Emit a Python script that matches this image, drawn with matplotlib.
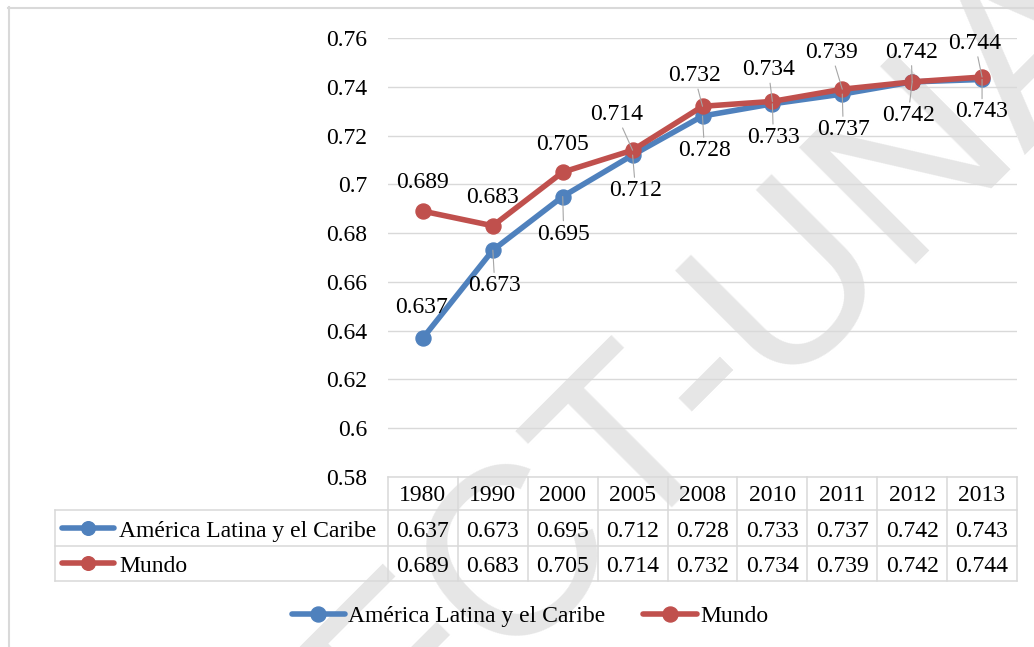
import matplotlib.pyplot as plt
from matplotlib.lines import Line2D
from matplotlib.ticker import MultipleLocator, FuncFormatter

years = ['1980', '1990', '2000', '2005', '2008', '2010', '2011', '2012', '2013']
latam = [0.637, 0.673, 0.695, 0.712, 0.728, 0.733, 0.737, 0.742, 0.743]
mundo = [0.689, 0.683, 0.705, 0.714, 0.732, 0.734, 0.739, 0.742, 0.744]
names = ['América Latina y el Caribe', 'Mundo']

# label offsets in pixels (to the digit centre) and whether a leader line is drawn
latam_off = [(-1, 33), (2, -33), (1, -35), (3, -33), (2, -32), (1, -31), (1, -33), (-4, -31), (0, -30)]
latam_lead = [False, True, True, True, True, True, True, True, True]
mundo_off = [(0, 31), (0, 31), (0, 30), (-16, 38), (-8, 33), (-4, 34), (-11, 39), (-1, 32), (-7, 36)]
mundo_lead = [False, False, False, True, True, True, True, True, True]

BLUE = '#4f81bd'
RED = '#c0504d'
GRID = '#d9d9d9'
W, H = 1034, 647
LW = 4.0
MS = 10.8


def fx(px):
    return px / W


def fy(py):
    return 1 - py / H


plt.rcParams['font.family'] = ['Liberation Serif', 'DejaVu Serif']
plt.rcParams['font.size'] = 17

fig = plt.figure(figsize=(W / 100, H / 100), dpi=100)
ax = fig.add_axes([fx(388), fy(477), (1017 - 388) / W, (477 - 38) / H])
ax.patch.set_alpha(0)

# watermark
fig.text(fx(721), fy(352), 'FCT-UNA', rotation=45, ha='center', va='center',
         fontsize=173, family='Liberation Sans', color='#e6e6e6', zorder=-1)

# outer chart border (cropped on right and bottom)
fig.add_artist(Line2D([fx(8), 1.0], [fy(7.5), fy(7.5)], color=GRID, lw=1.5))
fig.add_artist(Line2D([fx(8.5), fx(8.5)], [fy(7), 0.0], color=GRID, lw=1.5))

x = list(range(len(years)))
l1, = ax.plot(x, latam, color=BLUE, lw=LW, marker='o', ms=MS, label=names[0],
              solid_capstyle='round', solid_joinstyle='round')
l2, = ax.plot(x, mundo, color=RED, lw=LW, marker='o', ms=MS, label=names[1],
              solid_capstyle='round', solid_joinstyle='round')

for vals, offs, leads in [(latam, latam_off, latam_lead), (mundo, mundo_off, mundo_lead)]:
    for i, v in enumerate(vals):
        dx, dy = offs[i]
        arrow = dict(arrowstyle='-', color='#a6a6a6', lw=0.8, shrinkA=0, shrinkB=0) if leads[i] else None
        ax.annotate(f'{v:.3f}', (i, v), xytext=(dx, dy - 8), textcoords='offset pixels',
                    ha='center', va='baseline', arrowprops=arrow)

ax.set_xlim(-0.5, len(years) - 0.5)
ax.set_ylim(0.58, 0.76)
ax.yaxis.set_major_locator(MultipleLocator(0.02))
ax.yaxis.set_major_formatter(FuncFormatter(lambda v, p: f'{v:.2f}'.rstrip('0')))
ax.tick_params(axis='y', length=0, pad=15)
ax.set_xticks([])
ax.grid(axis='y', color=GRID, lw=1)
ax.set_axisbelow(True)
for s in ax.spines.values():
    s.set_visible(False)

# data table under the plot
inv = fig.transFigure.inverted()
edges = [inv.transform(ax.transData.transform((i - 0.5, 0.58)))[0] for i in range(len(years) + 1)]
tkw = dict(color=GRID, lw=1.1)
fig.add_artist(Line2D([edges[0], edges[-1]], [fy(477), fy(477)], **tkw))
for yy in [510, 545.5, 580.5]:
    fig.add_artist(Line2D([fx(55), edges[-1]], [fy(yy), fy(yy)], **tkw))
for e in edges:
    fig.add_artist(Line2D([e, e], [fy(477), fy(580.5)], **tkw))
fig.add_artist(Line2D([fx(55), fx(55)], [fy(510), fy(580.5)], **tkw))

centers = [(edges[i] + edges[i + 1]) / 2 for i in range(len(years))]
for i, yr in enumerate(years):
    fig.text(centers[i], fy(501), yr, ha='center', va='baseline')
for row_y, vals, color, name in [(537, latam, BLUE, names[0]), (572, mundo, RED, names[1])]:
    for i, v in enumerate(vals):
        fig.text(centers[i], fy(row_y), f'{v:.3f}', ha='center', va='baseline')
    key_y = fy(row_y - 9)
    fig.add_artist(Line2D([fx(62), fx(114)], [key_y, key_y], color=color, lw=LW,
                          solid_capstyle='round'))
    fig.add_artist(Line2D([fx(88)], [key_y], color=color, marker='o', ms=MS - 1, lw=0))
    fig.text(fx(119), fy(row_y), name, ha='left', va='baseline')

fig.legend(handles=[l1, l2], loc='center', bbox_to_anchor=(fx(530), fy(616)), ncol=2,
           frameon=False, handlelength=2.25, handletextpad=0.15, columnspacing=1.6,
           borderaxespad=0)

fig.savefig('out.png', dpi=100)
